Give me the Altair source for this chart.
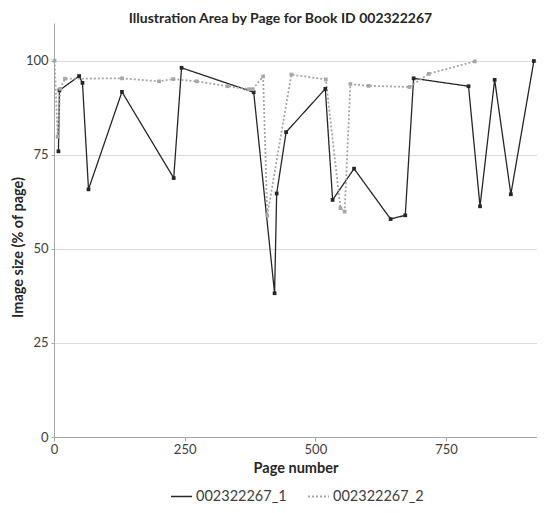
import altair as alt
import pandas as pd

s1_pages = [8.5, 10.4, 48, 54.5, 66, 130, 229, 244, 382, 422, 426, 444, 519, 533, 574, 644, 672, 688, 793, 815, 843, 874, 918]
s1_vals = [75.9, 92.1, 95.9, 94.1, 65.8, 91.7, 68.8, 98.1, 91.6, 38.2, 64.7, 81.0, 92.5, 63.0, 71.3, 57.9, 58.9, 95.3, 93.2, 61.3, 94.9, 64.5, 99.9]

s2_pages = [1, 7, 12, 21, 130, 201, 228, 273, 332, 373, 380, 400, 408, 454, 520, 548, 556, 567, 602, 680, 717, 805]
s2_vals = [100.0, 79.8, 92.5, 95.2, 95.3, 94.5, 95.1, 94.5, 93.2, 92.4, 92.4, 95.8, 58.8, 96.3, 95.0, 60.8, 59.9, 93.8, 93.3, 93.0, 96.5, 99.8]

series_names = ["002322267_1", "002322267_2"]

df = pd.concat([
    pd.DataFrame({"page": s1_pages, "value": s1_vals, "series": series_names[0], "order": range(len(s1_pages))}),
    pd.DataFrame({"page": s2_pages, "value": s2_vals, "series": series_names[1], "order": range(len(s2_pages))}),
])

FONT = "Lato"
AXIS_GREY = "#a6a6a6"

x = alt.X("page:Q", title="Page number",
          scale=alt.Scale(domain=[0, 924], nice=False, zero=True),
          axis=alt.Axis(values=[0, 250, 500, 750], grid=False, domain=True,
                        domainColor=AXIS_GREY, tickColor=AXIS_GREY, tickSize=4,
                        labelFontSize=13, labelColor="#404040", labelPadding=2,
                        titleFontSize=14.5, titleFontWeight="bold", titleColor="#262626",
                        titlePadding=5, labelFlush=False))
y = alt.Y("value:Q", title="Image size (% of page)",
          scale=alt.Scale(domain=[0, 110], nice=False),
          axis=alt.Axis(values=[0, 25, 50, 75, 100], grid=True, gridColor="#d9d9d9",
                        domain=True, domainColor=AXIS_GREY, tickColor=AXIS_GREY, tickSize=3,
                        labelFontSize=13, labelColor="#404040", labelPadding=3,
                        titleFontSize=14.5, titleFontWeight="bold", titleColor="#262626",
                        titleX=-36, titleY=224, titleBaseline="middle", titleAlign="center"))

color_scale = alt.Scale(domain=series_names, range=["#262626", "#a6a6a6"])
color = alt.Color("series:N", scale=color_scale,
                  legend=alt.Legend(title=None, orient="none", direction="horizontal",
                                    legendX=116, legendY=462,
                                    labelFontSize=14.5, labelColor="#404040", symbolType="stroke",
                                    symbolStrokeWidth=1.5, symbolSize=441, columnPadding=17,
                                    labelOffset=3))
dash = alt.StrokeDash("series:N", scale=alt.Scale(domain=series_names, range=[[1, 0], [2, 2]]), legend=None)

lines = alt.Chart(df).mark_line().encode(
    x=x, y=y, color=color, strokeDash=dash, order="order:Q",
    strokeWidth=alt.StrokeWidth("series:N", scale=alt.Scale(domain=series_names, range=[1.3, 1.8]), legend=None),
)
pts = alt.Chart(df).mark_square(size=14, opacity=1).encode(
    x=x, y=y, color=alt.Color("series:N", scale=color_scale, legend=None),
)

chart = alt.layer(lines, pts).properties(
    width=483, height=414,
    title=alt.TitleParams("Illustration Area by Page for Book ID 002322267", fontSize=14, fontWeight="bold",
                          font=FONT, color="#262626", anchor="middle", frame="group", dx=-15, offset=-3),
    autosize=alt.AutoSizeParams(type="none"),
    padding={"left": 46, "top": 15, "right": 0, "bottom": 68},
).configure(font=FONT).configure_view(stroke=None).configure_axis(labelFont=FONT, titleFont=FONT).configure_legend(labelFont=FONT)

chart.save("out.html", embed_options={"renderer": "svg", "actions": False})
